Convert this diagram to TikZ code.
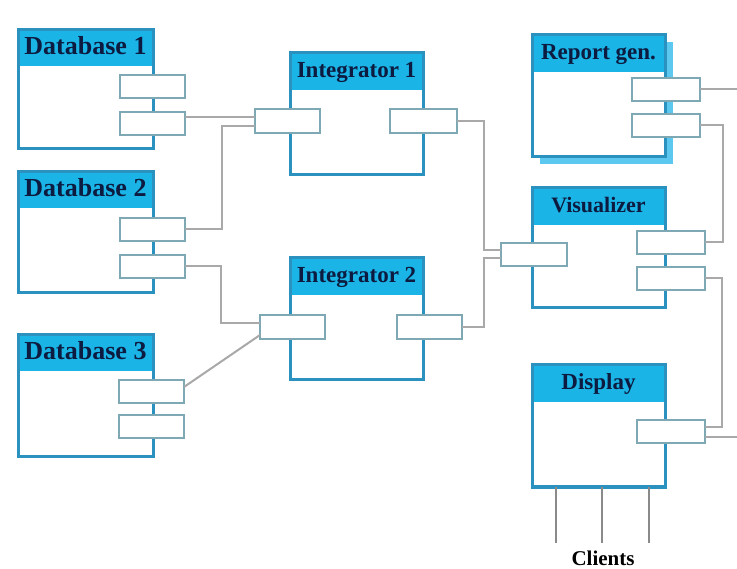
\documentclass[tikz,border=0pt]{standalone}
\usepackage{fontspec}
\setmainfont{Liberation Serif}

\definecolor{hdrcyan}{HTML}{1AB4E6}
\definecolor{boxblue}{HTML}{2B92BF}
\definecolor{shadowcyan}{HTML}{5CC8F0}
\definecolor{portgray}{HTML}{7EA8B4}
\definecolor{wiregray}{HTML}{A9A9A9}
\definecolor{clientgray}{HTML}{8A8A8A}
\definecolor{hdink}{HTML}{0C1B3F}

\tikzset{
  compbox/.style={rectangle, draw=boxblue, line width=3pt, fill=white,
    inner sep=0pt, outer sep=0pt, anchor=north west},
  portbox/.style={rectangle, draw=portgray, line width=2pt, fill=white,
    inner sep=0pt, outer sep=0pt, minimum height=23pt, minimum width=65pt,
    anchor=north west},
  wire/.style={draw=wiregray, line width=2pt},
  clientline/.style={draw=clientgray, line width=2.6pt},
  hdtext/.style={font=\bfseries\fontsize{23}{23}\selectfont, text=hdink,
    anchor=base, inner sep=0pt},
}

% component: name, x, y, width, height, header height, label
\newcommand\umlbox[7]{%
  \node[compbox, minimum width=#4pt, minimum height=#5pt] (#1) at (#2,#3) {};
  \fill[hdrcyan] (#1.north west) rectangle ([yshift=-#6pt]#1.north east);
  \draw[boxblue, line width=3pt] (#1.north west) rectangle (#1.south east);
  \node[hdtext] (#1-title) at ([yshift=-25pt]#1.north) {#7};%
}

\begin{document}
\begin{tikzpicture}[x=1pt, y=-1pt]
  \useasboundingbox (0,0) rectangle (737,569);
  \fill[white] (0,0) rectangle (737,569);

  % data sources
  \umlbox{db1}{18}{30}{135}{119}{36}{\fontsize{26}{26}\selectfont Database 1}
  \umlbox{db2}{18}{172}{135}{121}{36}{\fontsize{26}{26}\selectfont Database 2}
  \umlbox{db3}{18}{335}{135}{122}{36}{\fontsize{26}{26}\selectfont Database 3}

  % integrators
  \umlbox{int1}{290}{53}{133}{122}{37}{Integrator 1}
  \umlbox{int2}{290}{258}{133}{122}{37}{Integrator 2}

  % outputs; the report generator carries a drop shadow
  \fill[shadowcyan] (540,42) rectangle (673,164);
  \umlbox{rep}{532}{35}{133}{122}{37}{Report gen.}
  \umlbox{vis}{532}{188}{133}{120}{37}{\fontsize{22}{22}\selectfont Visualizer}
  \umlbox{disp}{532}{365}{133}{122}{37}{Display}

  % ports
  \node[portbox] (db1a) at (120,75) {};
  \node[portbox] (db1b) at (120,112) {};
  \node[portbox] (db2a) at (120,218) {};
  \node[portbox] (db2b) at (120,255) {};
  \node[portbox] (db3a) at (119,380) {};
  \node[portbox] (db3b) at (119,415) {};
  \node[portbox, minimum height=24pt] (int1in) at (255,109) {};
  \node[portbox, minimum height=24pt, minimum width=67pt] (int1out) at (390,109) {};
  \node[portbox, minimum height=24pt] (int2in) at (260,315) {};
  \node[portbox, minimum height=24pt] (int2out) at (397,315) {};
  \node[portbox, minimum width=68pt] (repa) at (632,78) {};
  \node[portbox, minimum width=68pt] (repb) at (632,114) {};
  \node[portbox, minimum width=66pt] (visin) at (501,243) {};
  \node[portbox, minimum width=68pt] (visa) at (637,231) {};
  \node[portbox, minimum width=68pt] (visb) at (637,267) {};
  \node[portbox, minimum width=68pt] (dispp) at (637,420) {};

  % connectors
  \draw[wire] (db1b.east |- 0,117) -- (int1in.west |- 0,117);
  \draw[wire] (db2a.east) -| (222,126) -- (int1in.west |- 0,126);
  \draw[wire] (db2b.east) -| (221,323) -- (int2in.west |- 0,323);
  \draw[wire] (db3a.east |- 0,387) -- (int2in.west |- 0,335);
  \draw[wire] (int1out.east) -| (484,250) -- (visin.west |- 0,250);
  \draw[wire] (int2out.east) -| (484,258) -- (visin.west |- 0,258);
  \coordinate (edgea) at (repa.east -| 737,0);
  \draw[wire] (repa.east) -- (edgea);
  \draw[wire] (repb.east) -| ([xshift=18pt]visa.east) -- (visa.east);
  \draw[wire] (visb.east) -| ([xshift=17pt,yshift=4pt]dispp.east)
    -- ([yshift=4pt]dispp.east);
  \coordinate (edgeb) at ([yshift=-6pt]dispp.east -| 737,0);
  \draw[wire] (dispp.east |- edgeb) -- (edgeb);

  % client links
  \coordinate (c1) at ([xshift=24pt,yshift=-56pt]disp.south west);
  \coordinate (c2) at ([xshift=70pt,yshift=-56pt]disp.south west);
  \coordinate (c3) at ([xshift=117pt,yshift=-56pt]disp.south west);
  \draw[clientline] (disp.south west -| c1) -- (c1);
  \draw[clientline] (disp.south west -| c2) -- (c2);
  \draw[clientline] (disp.south west -| c3) -- (c3);
  \node[hdtext, text=black, font=\bfseries\fontsize{21}{21}\selectfont,
    text depth=0pt] (clients) at (603,565) {Clients};
\end{tikzpicture}
\end{document}
